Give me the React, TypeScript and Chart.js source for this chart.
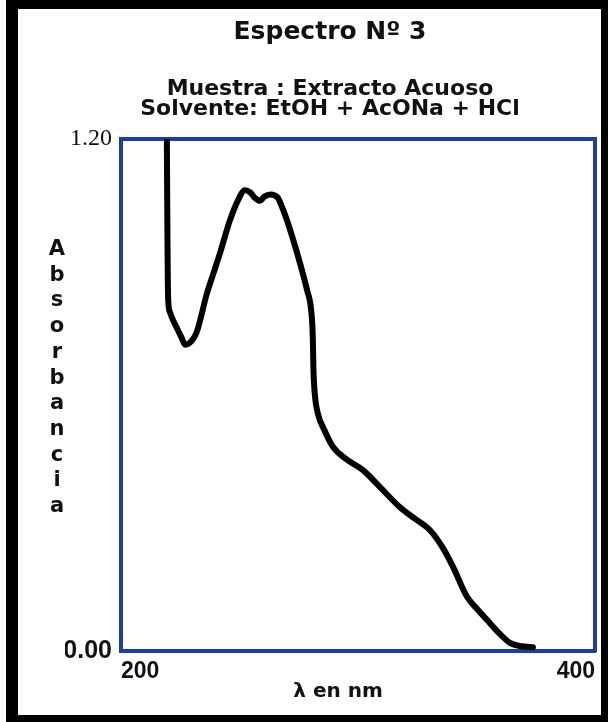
import React, { useEffect, useRef } from 'react';
import { Chart, registerables } from 'chart.js';

Chart.register(...registerables);

// ---- data ----
const wavelengths = [
  219.3, 219.5, 219.7, 219.9, 220.6, 222, 223.6, 225.5, 227, 228.5, 230.5, 232,
  236.3, 239, 241.8, 246, 249.4, 252.3, 254.5, 256.5, 258.6, 260.5, 263, 266.2, 268,
  270, 274.3, 278.5, 280.2, 280.9, 281.2, 281.8, 282.9, 285.8, 289.5, 295.5, 302.1, 310,
  317.7, 324, 330.4, 336, 340.1, 346, 350, 354.4, 359, 364.1, 369, 373.8,
];
const absorbance = [
  1.25, 1.05, 0.9, 0.825, 0.795, 0.775, 0.757, 0.735, 0.718, 0.72, 0.732, 0.748,
  0.839, 0.885, 0.933, 1.01, 1.057, 1.08, 1.075, 1.062, 1.055, 1.065, 1.07, 1.062, 1.04,
  1.01, 0.933, 0.846, 0.8, 0.74, 0.66, 0.6, 0.56, 0.518, 0.478, 0.448, 0.424, 0.38,
  0.337, 0.31, 0.283, 0.24, 0.197, 0.127, 0.1, 0.073, 0.045, 0.019, 0.011, 0.009,
];
const xTickValues = [200, 400];
const yTickValues = [0, 1.2];
const chartTitle = 'Espectro Nº 3';
const chartSubtitle = ['Muestra : Extracto Acuoso', 'Solvente: EtOH + AcONa + HCl'];
const xTitle = 'λ en nm';
const yTitleLetters = ['A', 'b', 's', 'o', 'r', 'b', 'a', 'n', 'c', 'i', 'a'];

const BLUE = '#1c3f9e';
const INK = '#111111';
const SANS = '"DejaVu Sans", sans-serif';
const SERIF = '"Liberation Serif", serif';
const NARROW = '"Liberation Sans Narrow", "Liberation Sans", sans-serif';

const framePlugin = {
  id: 'blackFrame',
  beforeDraw(chart: any) {
    const { ctx, width, height } = chart;
    ctx.save();
    ctx.fillStyle = '#ffffff';
    ctx.fillRect(0, 0, width, height);
    ctx.fillStyle = '#000000';
    ctx.fillRect(6, 0, width - 6, 9);
    ctx.fillRect(6, 0, 12, height);
    ctx.fillRect(width - 7, 0, 7, height);
    ctx.fillRect(6, height - 7, width - 6, 7);
    ctx.restore();
  },
};

const stackedYTitlePlugin = {
  id: 'stackedYTitle',
  afterDraw(chart: any) {
    const { ctx } = chart;
    ctx.save();
    ctx.font = `bold 21px ${SANS}`;
    ctx.fillStyle = INK;
    ctx.textAlign = 'center';
    ctx.textBaseline = 'alphabetic';
    yTitleLetters.forEach((ch, i) => ctx.fillText(ch, 57, 255 + i * 25.7));
    ctx.restore();
  },
};

export default function App() {
  const ref = useRef<HTMLCanvasElement | null>(null);

  useEffect(() => {
    if (!ref.current) return;
    const chart = new Chart(ref.current, {
      type: 'line',
      data: {
        datasets: [
          {
            data: wavelengths.map((w, i) => ({ x: w, y: absorbance[i] })),
            borderColor: '#000000',
            borderWidth: 6,
            pointRadius: 0,
            cubicInterpolationMode: 'monotone',
            borderCapStyle: 'round',
            borderJoinStyle: 'round',
            fill: false,
          },
        ],
      },
      options: {
        animation: false,
        responsive: false,
        events: [],
        layout: { padding: { left: 65, right: 13, top: 9, bottom: 7 } },
        plugins: {
          legend: { display: false },
          tooltip: { enabled: false },
          title: {
            display: true,
            text: chartTitle,
            color: INK,
            font: { family: SANS, size: 25, weight: 'bold', lineHeight: '30px' },
            padding: { top: 8, bottom: 8 },
          },
          subtitle: {
            display: true,
            text: chartSubtitle,
            color: INK,
            font: { family: SANS, size: 22, weight: 'bold', lineHeight: '20px' },
            padding: { top: 24, bottom: 20 },
          },
        },
        scales: {
          x: {
            type: 'linear',
            position: 'bottom',
            min: 200,
            max: 400,
            grid: { display: false, drawTicks: false },
            border: { display: true, color: BLUE, width: 4 },
            afterBuildTicks: (s: any) => {
              s.ticks = xTickValues.map((v) => ({ value: v }));
            },
            ticks: {
              align: 'inner',
              padding: 9,
              maxRotation: 0,
              autoSkip: false,
              color: INK,
              font: { family: NARROW, size: 23, weight: 'bold', lineHeight: '24px' },
              callback: (v: any) => String(v),
            },
            title: {
              display: true,
              text: xTitle + '\u2003\u2003',
              color: INK,
              font: { family: SANS, size: 20, weight: 'bold' },
              padding: { top: 0, bottom: 11 },
            },
            afterFit: (s: any) => {
              s.height = 64;
            },
          },
          x2: {
            type: 'linear',
            position: 'top',
            min: 200,
            max: 400,
            grid: { display: false, drawTicks: false },
            border: { display: true, color: BLUE, width: 4 },
            ticks: { display: false },
            afterFit: (s: any) => {
              s.height = 0;
            },
          },
          y: {
            type: 'linear',
            position: 'left',
            min: 0,
            max: 1.2,
            grid: { display: false, drawTicks: false },
            border: { display: true, color: BLUE, width: 4 },
            afterBuildTicks: (s: any) => {
              s.ticks = yTickValues.map((v) => ({ value: v }));
            },
            ticks: {
              padding: 9,
              autoSkip: false,
              color: INK,
              font: (c: any) =>
                c.tick && c.tick.value === 0
                  ? { family: NARROW, size: 25, weight: 'bold' }
                  : { family: SERIF, size: 24, weight: 'normal' },
              callback: (v: any) => Number(v).toFixed(2),
            },
            afterFit: (s: any) => {
              s.width = 56;
            },
          },
          y2: {
            type: 'linear',
            position: 'right',
            min: 0,
            max: 1.2,
            grid: { display: false, drawTicks: false },
            border: { display: true, color: BLUE, width: 4 },
            ticks: { display: false },
            afterFit: (s: any) => {
              s.width = 0;
            },
          },
        },
      } as any,
      plugins: [framePlugin, stackedYTitlePlugin],
    });
    return () => chart.destroy();
  }, []);

  return (
    <div style={{ position: 'fixed', left: 0, top: 0, width: 608, height: 722 }}>
      <canvas ref={ref} width={608} height={722} />
    </div>
  );
}
